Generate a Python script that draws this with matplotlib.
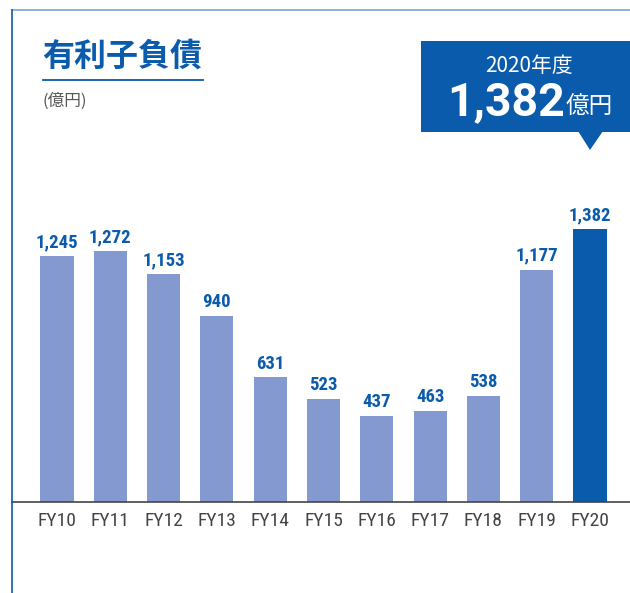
import matplotlib.pyplot as plt
from matplotlib.patches import Rectangle, Polygon
from matplotlib.lines import Line2D

years = ["FY10", "FY11", "FY12", "FY13", "FY14", "FY15", "FY16", "FY17", "FY18", "FY19", "FY20"]
debt = [1245, 1272, 1153, 940, 631, 523, 437, 463, 538, 1177, 1382]
value_labels = ["1,245", "1,272", "1,153", "940", "631", "523", "437", "463", "538", "1,177", "1,382"]

blue = "#0a5bab"
light = "#8499cf"
narrow = ["Roboto Condensed", "DejaVu Sans"]
jp = ["Noto Sans CJK JP", "DejaVu Sans"]

W, H = 630, 593
fig = plt.figure(figsize=(W / 100, H / 100), dpi=100)

def fx(px):
    return px / W

def fy(py):
    return 1 - py / H

# plot area: x pixels 12..630, baseline at y=502, top at y=10
ax = fig.add_axes([fx(12), fy(502), fx(630 - 12), (502 - 10) / H])
x = list(range(len(years)))
colors = [light] * (len(years) - 1) + [blue]
ax.bar(x, debt, width=0.62, color=colors, zorder=2)
ax.set_xlim((12 - 57) / 53.3, (630 - 57) / 53.3)
ax.set_ylim(0, 492 / 0.1975)
for s in ["top", "left", "right"]:
    ax.spines[s].set_visible(False)
ax.spines["bottom"].set_color("#444444")
ax.spines["bottom"].set_linewidth(1.2)
ax.set_yticks([])
ax.set_xticks(x)
ax.set_xticklabels(years, family=narrow, fontsize=14, color="#444444")
ax.tick_params(axis="x", length=0, pad=7)
for xi, v, lab in zip(x, debt, value_labels):
    ax.annotate(lab, (xi, v), xytext=(0, 3.5), textcoords="offset points",
                ha="center", va="bottom", family=narrow, fontsize=13.5,
                fontweight="bold", color=blue)

# frame lines
fig.add_artist(Line2D([fx(12), 1], [fy(10), fy(10)], color="#7aa3d4", lw=1.2))
fig.add_artist(Line2D([fx(12), fx(12)], [fy(10), 0], color=blue, lw=1.2))

# title
fig.text(fx(42), fy(57), "有利子負債", family=jp, fontsize=23, fontweight="bold",
         color=blue, va="center", ha="left")
fig.add_artist(Line2D([fx(43), fx(203)], [fy(80), fy(80)], color=blue, lw=1.3))
fig.text(fx(43), fy(101), "(億円)", family=jp, fontsize=12, color="#555555",
         va="center", ha="left")

# callout
fig.add_artist(Rectangle((fx(421), fy(132)), fx(630 - 421), (132 - 41) / H,
                         transform=fig.transFigure, color=blue, lw=0))
fig.add_artist(Polygon([(fx(578), fy(131)), (fx(603), fy(131)), (fx(590), fy(150))],
                       closed=True, transform=fig.transFigure, color=blue, lw=0))
fig.text(fx(529), fy(66), "2020年度", family=jp, fontsize=15, color="white",
         ha="center", va="center")
fig.text(fx(565), fy(102), "1,382", family=["Roboto", "DejaVu Sans"], fontsize=33.5,
         fontweight="bold", color="white", ha="right", va="center")
fig.text(fx(566), fy(107), "億円", family=jp, fontsize=17, color="white",
         ha="left", va="center")

fig.savefig("out.png", dpi=100)
